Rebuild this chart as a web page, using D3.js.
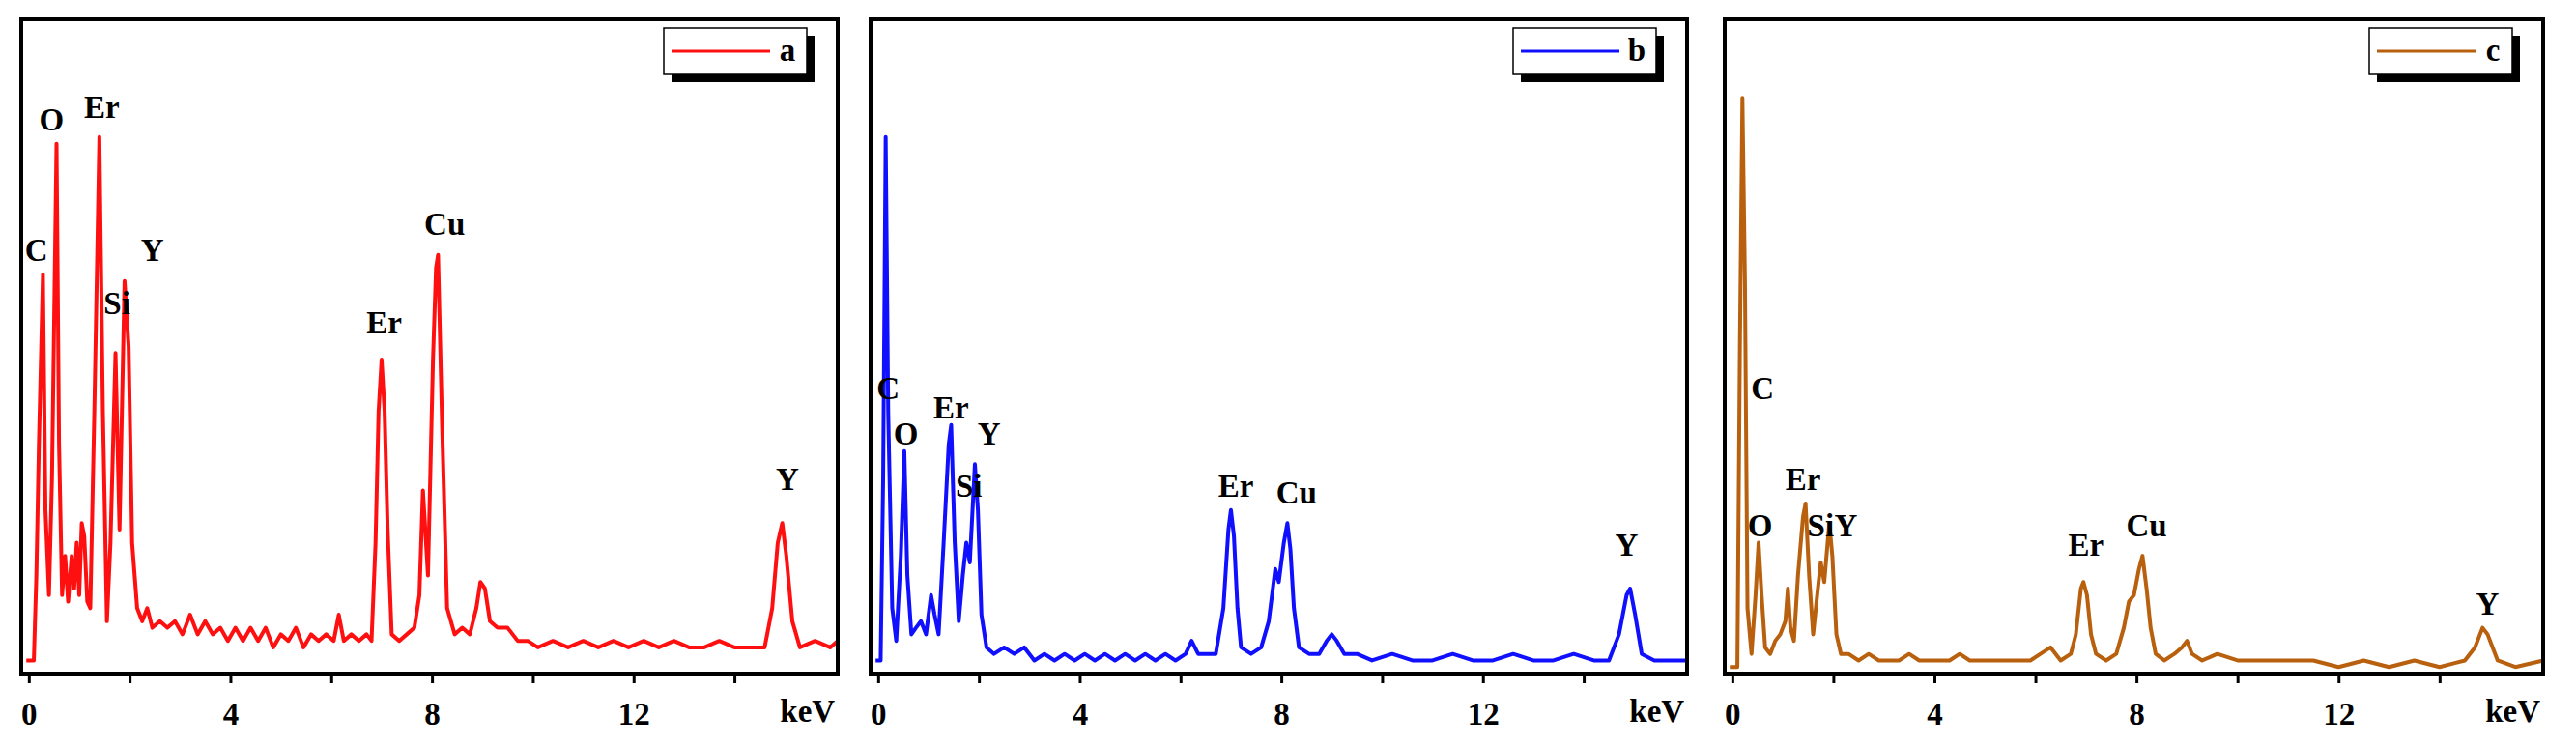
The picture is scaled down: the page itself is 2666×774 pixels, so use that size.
<!DOCTYPE html>
<html><head><meta charset="utf-8">
<script src="https://cdn.jsdelivr.net/npm/d3@7"></script>
<style>body{margin:0;background:#fff}</style>
</head><body>
<script>
// EDS spectra, [keV, counts (0-100 of frame height)]
const spectrumA = [[-0.05,2],[0.1,2],[0.15,15],[0.2,35],[0.28,61],[0.33,25],[0.4,12],[0.46,30],[0.55,81],[0.6,35],[0.66,12],[0.72,18],[0.78,11],[0.85,18],[0.9,13],[0.95,20],[1.0,12],[1.05,23],[1.1,21],[1.16,11],[1.22,10],[1.3,40],[1.4,82],[1.47,40],[1.55,8],[1.62,20],[1.72,49],[1.8,22],[1.9,60],[1.98,50],[2.05,20],[2.15,10],[2.25,8],[2.35,10],[2.45,7],[2.6,8],[2.75,7],[2.9,8],[3.05,6],[3.2,9],[3.35,6],[3.5,8],[3.65,6],[3.8,7],[3.95,5],[4.1,7],[4.25,5],[4.4,7],[4.55,5],[4.7,7],[4.85,4],[5.0,6],[5.15,5],[5.3,7],[5.45,4],[5.6,6],[5.75,5],[5.9,6],[6.05,5],[6.15,9],[6.25,5],[6.4,6],[6.55,5],[6.7,6],[6.8,5],[6.88,20],[6.94,40],[7.0,48],[7.06,40],[7.12,22],[7.2,6],[7.35,5],[7.5,6],[7.65,7],[7.75,12],[7.82,28],[7.92,15],[8.02,48],[8.08,62],[8.12,64],[8.2,38],[8.3,10],[8.45,6],[8.6,7],[8.75,6],[8.88,10],[8.96,14],[9.05,13],[9.15,8],[9.3,7],[9.5,7],[9.7,5],[9.9,5],[10.1,4],[10.4,5],[10.7,4],[11.0,5],[11.3,4],[11.6,5],[11.9,4],[12.2,5],[12.5,4],[12.8,5],[13.1,4],[13.4,4],[13.7,5],[14.0,4],[14.3,4],[14.6,4],[14.75,10],[14.86,20],[14.95,23],[15.03,18],[15.15,8],[15.3,4],[15.6,5],[15.9,4],[16.05,5]];
const spectrumB = [[-0.05,2],[0.05,2],[0.1,30],[0.15,82],[0.2,40],[0.28,10],[0.36,5],[0.45,18],[0.52,34],[0.58,15],[0.66,6],[0.75,7],[0.85,8],[0.95,6],[1.05,12],[1.12,9],[1.2,6],[1.3,20],[1.4,35],[1.45,38],[1.52,20],[1.6,8],[1.68,15],[1.75,20],[1.82,17],[1.92,32],[1.98,25],[2.05,9],[2.15,4],[2.3,3],[2.5,4],[2.7,3],[2.9,4],[3.1,2],[3.3,3],[3.5,2],[3.7,3],[3.9,2],[4.1,3],[4.3,2],[4.5,3],[4.7,2],[4.9,3],[5.1,2],[5.3,3],[5.5,2],[5.7,3],[5.9,2],[6.1,3],[6.22,5],[6.35,3],[6.5,3],[6.7,3],[6.85,10],[6.95,22],[7.0,25],[7.06,21],[7.13,10],[7.2,4],[7.4,3],[7.6,4],[7.75,8],[7.88,16],[7.95,14],[8.05,20],[8.12,23],[8.18,19],[8.25,10],[8.35,4],[8.55,3],[8.75,3],[8.9,5],[9.0,6],[9.1,5],[9.25,3],[9.5,3],[9.8,2],[10.2,3],[10.6,2],[11.0,2],[11.4,3],[11.8,2],[12.2,2],[12.6,3],[13.0,2],[13.4,2],[13.8,3],[14.2,2],[14.5,2],[14.7,6],[14.85,12],[14.92,13],[15.02,9],[15.15,3],[15.4,2],[15.7,2],[16.05,2]];
const spectrumC = [[-0.05,1],[0.1,1],[0.15,50],[0.2,88],[0.25,60],[0.3,10],[0.38,3],[0.46,12],[0.52,20],[0.58,12],[0.65,4],[0.75,3],[0.85,5],[0.95,6],[1.05,8],[1.1,13],[1.15,7],[1.22,5],[1.3,15],[1.4,24],[1.45,26],[1.52,15],[1.6,6],[1.68,12],[1.75,17],[1.82,14],[1.92,23],[1.98,18],[2.06,6],[2.15,3],[2.3,3],[2.5,2],[2.7,3],[2.9,2],[3.1,2],[3.3,2],[3.5,3],[3.7,2],[3.9,2],[4.1,2],[4.3,2],[4.5,3],[4.7,2],[4.9,2],[5.1,2],[5.3,2],[5.5,2],[5.7,2],[5.9,2],[6.1,3],[6.3,4],[6.5,2],[6.7,3],[6.8,6],[6.9,13],[6.95,14],[7.02,12],[7.1,6],[7.2,3],[7.4,2],[7.6,3],[7.75,7],[7.85,11],[7.95,12],[8.05,16],[8.12,18],[8.2,13],[8.28,7],[8.38,3],[8.55,2],[8.75,3],[8.9,4],[9.0,5],[9.1,3],[9.3,2],[9.6,3],[10.0,2],[10.5,2],[11.0,2],[11.5,2],[12.0,1],[12.5,2],[13.0,1],[13.5,2],[14.0,1],[14.5,2],[14.7,4],[14.85,7],[14.95,6],[15.05,4],[15.15,2],[15.5,1],[16.05,2]];

const seriesNames = ["a", "b", "c"];
const seriesColors = ["#ff1010", "#1010ff", "#b8600e"];
const xTicks = [0, 2, 4, 6, 8, 10, 12, 14];
const xTickLabels = ["0", "", "4", "", "8", "", "12", ""];
// peak labels: [text, keV, value]
const labelsA = [["C",0.15,63],["O",0.45,83],["Er",1.45,85],["Si",1.75,55],["Y",2.45,63],["Er",7.05,52],["Cu",8.25,67],["Y",15.05,28]];
const labelsB = [["C",0.2,42],["O",0.55,35],["Er",1.45,39],["Si",1.8,27],["Y",2.2,35],["Er",7.1,27],["Cu",8.3,26],["Y",14.85,18]];
const labelsC = [["C",0.6,42],["O",0.55,21],["Er",1.4,28],["Si",1.75,21],["Y",2.25,21],["Er",7.0,18],["Cu",8.2,21],["Y",14.95,9]];

const W = 2666, H = 774;
const panels = [
  {data: spectrumA, labels: labelsA, x0: 22, x1: 867},
  {data: spectrumB, labels: labelsB, x0: 901, x1: 1746},
  {data: spectrumC, labels: labelsC, x0: 1785, x1: 2632}
];
const plotTop = 20, plotBottom = 697;
const font = "'Liberation Serif', 'Times New Roman', serif";

var svg = d3.select("body").append("svg").attr("width", W).attr("height", H);

panels.forEach(function (p, i) {
  var x = d3.scaleLinear().domain([-0.15, 16.05]).range([p.x0, p.x1]);
  var y = d3.scaleLinear().domain([0, 100]).range([plotBottom, plotTop]);
  var g = svg.append("g");

  g.append("path").datum(p.data)
    .attr("fill", "none").attr("stroke", seriesColors[i]).attr("stroke-width", 4)
    .attr("stroke-linejoin", "round")
    .attr("d", d3.line().x(d => x(d[0])).y(d => y(d[1])));

  // axis ticks (outward, below frame)
  var axis = d3.axisBottom(x).tickValues(xTicks).tickSize(10).tickFormat((d, k) => xTickLabels[k]);
  var ax = g.append("g").attr("transform", "translate(0," + plotBottom + ")").call(axis);
  ax.select(".domain").remove();
  ax.selectAll("line").attr("stroke", "#000").attr("stroke-width", 3);
  ax.selectAll("text").attr("font-family", font).attr("font-weight", "bold")
    .attr("font-size", 33).attr("dy", "1.2em").attr("fill", "#000");
  g.append("text").attr("x", x(15.45)).attr("y", plotBottom + 50)
    .attr("text-anchor", "middle").attr("font-family", font).attr("font-weight", "bold")
    .attr("font-size", 33).text("keV");

  g.append("rect").attr("x", p.x0).attr("y", plotTop).attr("width", p.x1 - p.x0).attr("height", plotBottom - plotTop)
    .attr("fill", "none").attr("stroke", "#000").attr("stroke-width", 4);

  g.selectAll(".pk").data(p.labels).enter().append("text")
    .attr("x", d => x(d[1])).attr("y", d => y(d[2]))
    .attr("text-anchor", "middle").attr("font-family", font).attr("font-weight", "bold")
    .attr("font-size", 33).text(d => d[0]);

  // legend with drop shadow
  var lx = p.x1 - 180, ly = 29, lw = 148, lh = 48;
  g.append("rect").attr("x", lx + 8).attr("y", ly + 8).attr("width", lw).attr("height", lh).attr("fill", "#000");
  g.append("rect").attr("x", lx).attr("y", ly).attr("width", lw).attr("height", lh)
    .attr("fill", "#fff").attr("stroke", "#000").attr("stroke-width", 1.5);
  g.append("line").attr("x1", lx + 8).attr("x2", lx + 110).attr("y1", ly + lh / 2).attr("y2", ly + lh / 2)
    .attr("stroke", seriesColors[i]).attr("stroke-width", 3);
  g.append("text").attr("x", lx + 128).attr("y", ly + lh / 2 + 10).attr("text-anchor", "middle")
    .attr("font-family", font).attr("font-weight", "bold").attr("font-size", 33).text(seriesNames[i]);
});
</script>
</body></html>
